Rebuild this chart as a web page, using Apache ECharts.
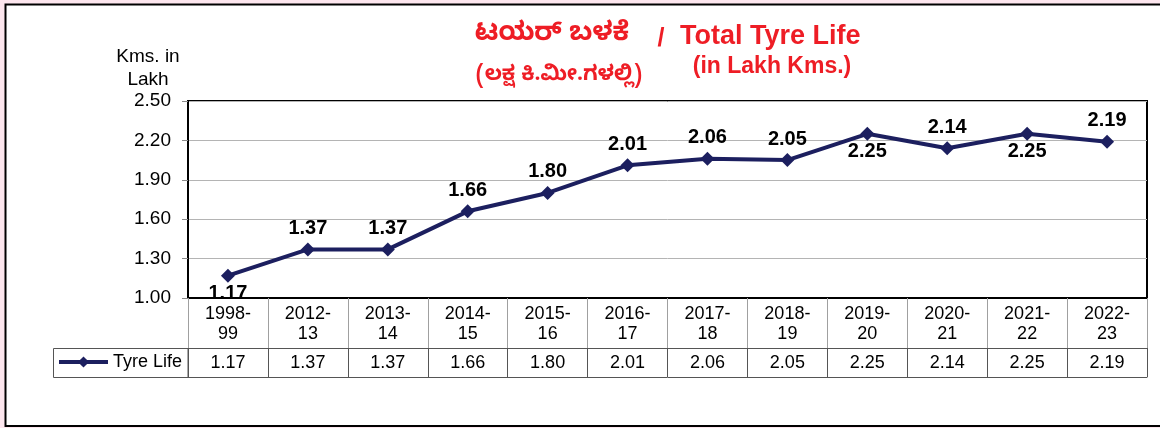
<!DOCTYPE html>
<html>
<head>
<meta charset="utf-8">
<script src="https://cdn.jsdelivr.net/npm/echarts@6/dist/echarts.min.js"></script>
<style>
html,body{margin:0;padding:0;background:#fde6ee;}
#chart{width:1160px;height:428px;}
</style>
</head>
<body>
<div id="chart"></div>
<script>
const categories = ['1998-99','2012-13','2013-14','2014-15','2015-16','2016-17','2017-18','2018-19','2019-20','2020-21','2021-22','2022-23'];
const tyreLife = [1.17,1.37,1.37,1.66,1.80,2.01,2.06,2.05,2.25,2.14,2.25,2.19];
const seriesName = 'Tyre Life';
const yMin = 1.0, yMax = 2.5, yStep = 0.3;
const belowLabelIdx = [0, 8, 10];

const titleKn = 'ಟಯರ್ ಬಳಕೆ';
const titleEn = 'Total Tyre Life';
const subKn = '(ಲಕ್ಷ ಕಿ.ಮೀ.ಗಳಲ್ಲಿ)';
const subEn = '(in Lakh Kms.)';
const yName = 'Kms. in\nLakh';

const FONT = 'Liberation Sans, Arial, sans-serif';
const KFONT = '"Noto Sans Kannada", "Noto Sans", "Liberation Sans", sans-serif';
const RED = '#ee1d25';
const NAVY = '#1c1f5f';

const chart = echarts.init(document.getElementById('chart'), null, {renderer:'canvas'});
chart.setOption({
  backgroundColor: '#fde6ee',
  animation: false,
  textStyle: {fontFamily: FONT},
  grid: {left: 188, right: 13, top: 101, bottom: 130, show: true, borderColor: '#000', borderWidth: 2, backgroundColor: 'transparent'},
  legend: {
    data: [seriesName], left: 57, top: 353, padding: 0,
    itemWidth: 49, itemHeight: 14, itemGap: 6,
    lineStyle: {width: 4, color: NAVY},
    itemStyle: {color: NAVY},
    textStyle: {fontSize: 18, color: '#000', fontFamily: FONT}
  },
  xAxis: [
    {
      type: 'category', data: categories, boundaryGap: true,
      axisLine: {show: true, lineStyle: {color: '#000', width: 2}},
      axisTick: {show: true, length: 50, alignWithLabel: false, lineStyle: {color: '#a0a0a0', width: 1}},
      axisLabel: {
        interval: 0, margin: 6, fontSize: 18, lineHeight: 20, color: '#000',
        formatter: v => v.replace('-', '-\n')
      },
      splitLine: {show: false}
    },
    {
      type: 'category', data: categories, position: 'bottom', offset: 50, boundaryGap: true,
      axisLine: {show: true, lineStyle: {color: '#555', width: 1}},
      axisTick: {show: true, length: 29, alignWithLabel: false, lineStyle: {color: '#555', width: 1}},
      axisLabel: {interval: 0, margin: 6, fontSize: 18, color: '#000', formatter: (v, i) => tyreLife[i].toFixed(2)},
      splitLine: {show: false}
    },
    {
      type: 'category', data: categories, position: 'bottom', offset: 79, boundaryGap: true,
      axisLine: {show: true, lineStyle: {color: '#555', width: 1}},
      axisTick: {show: false}, axisLabel: {show: false}, splitLine: {show: false}
    }
  ],
  yAxis: {
    type: 'value', min: yMin, max: yMax, interval: yStep,
    axisLine: {show: true, lineStyle: {color: '#000', width: 2}},
    axisTick: {show: true, length: 6, lineStyle: {color: '#888'}},
    axisLabel: {margin: 17, fontSize: 19, color: '#000', formatter: v => v.toFixed(2)},
    splitLine: {show: true, lineStyle: {color: '#b4b4b4', width: 1}}
  },
  series: [{
    name: seriesName, type: 'line', xAxisIndex: 0,
    data: tyreLife.map((v, i) => ({
      value: v,
      label: {position: belowLabelIdx.includes(i) ? 'bottom' : 'top', distance: belowLabelIdx.includes(i) ? 1 : 4}
    })),
    symbol: 'diamond', symbolSize: 14,
    lineStyle: {color: NAVY, width: 4},
    itemStyle: {color: NAVY},
    label: {show: true, distance: 4, fontSize: 20, fontWeight: 'bold', color: '#000', formatter: p => p.value.toFixed(2)}
  }],
  graphic: [
    {type: 'rect', z: -100, silent: true, shape: {x: 5.5, y: 4.5, width: 1170, height: 421.5}, style: {fill: '#fff', stroke: '#000', lineWidth: 2}},
    {type: 'rect', z: 5, silent: true, shape: {x: 53.5, y: 348.5, width: 134.5, height: 29}, style: {fill: 'none', stroke: '#555', lineWidth: 1}},
    {type: 'text', z: 5, x: 629, y: 37, style: {text: titleKn, fill: RED, font: 'bold 26px ' + KFONT, textAlign: 'right', textVerticalAlign: 'middle'}},
    {type: 'text', z: 5, x: 661, y: 39, style: {text: '/', fill: RED, font: 'bold 25px ' + FONT, textAlign: 'center', textVerticalAlign: 'middle'}},
    {type: 'text', z: 5, x: 680, y: 37, style: {text: titleEn, fill: RED, font: 'bold 27px ' + FONT, textAlign: 'left', textVerticalAlign: 'middle'}},
    {type: 'text', z: 5, x: 559, y: 78, style: {text: subKn, fill: RED, font: 'bold 21px ' + KFONT, textAlign: 'center', textVerticalAlign: 'middle'}},
    {type: 'text', z: 5, x: 772, y: 67, style: {text: subEn, fill: RED, font: 'bold 23px ' + FONT, textAlign: 'center', textVerticalAlign: 'middle'}},
    {type: 'text', z: 5, x: 148, y: 68, style: {text: yName, fill: '#000', font: '19px ' + FONT, lineHeight: 23, textAlign: 'center', textVerticalAlign: 'middle'}}
  ]
});
</script>
</body>
</html>
